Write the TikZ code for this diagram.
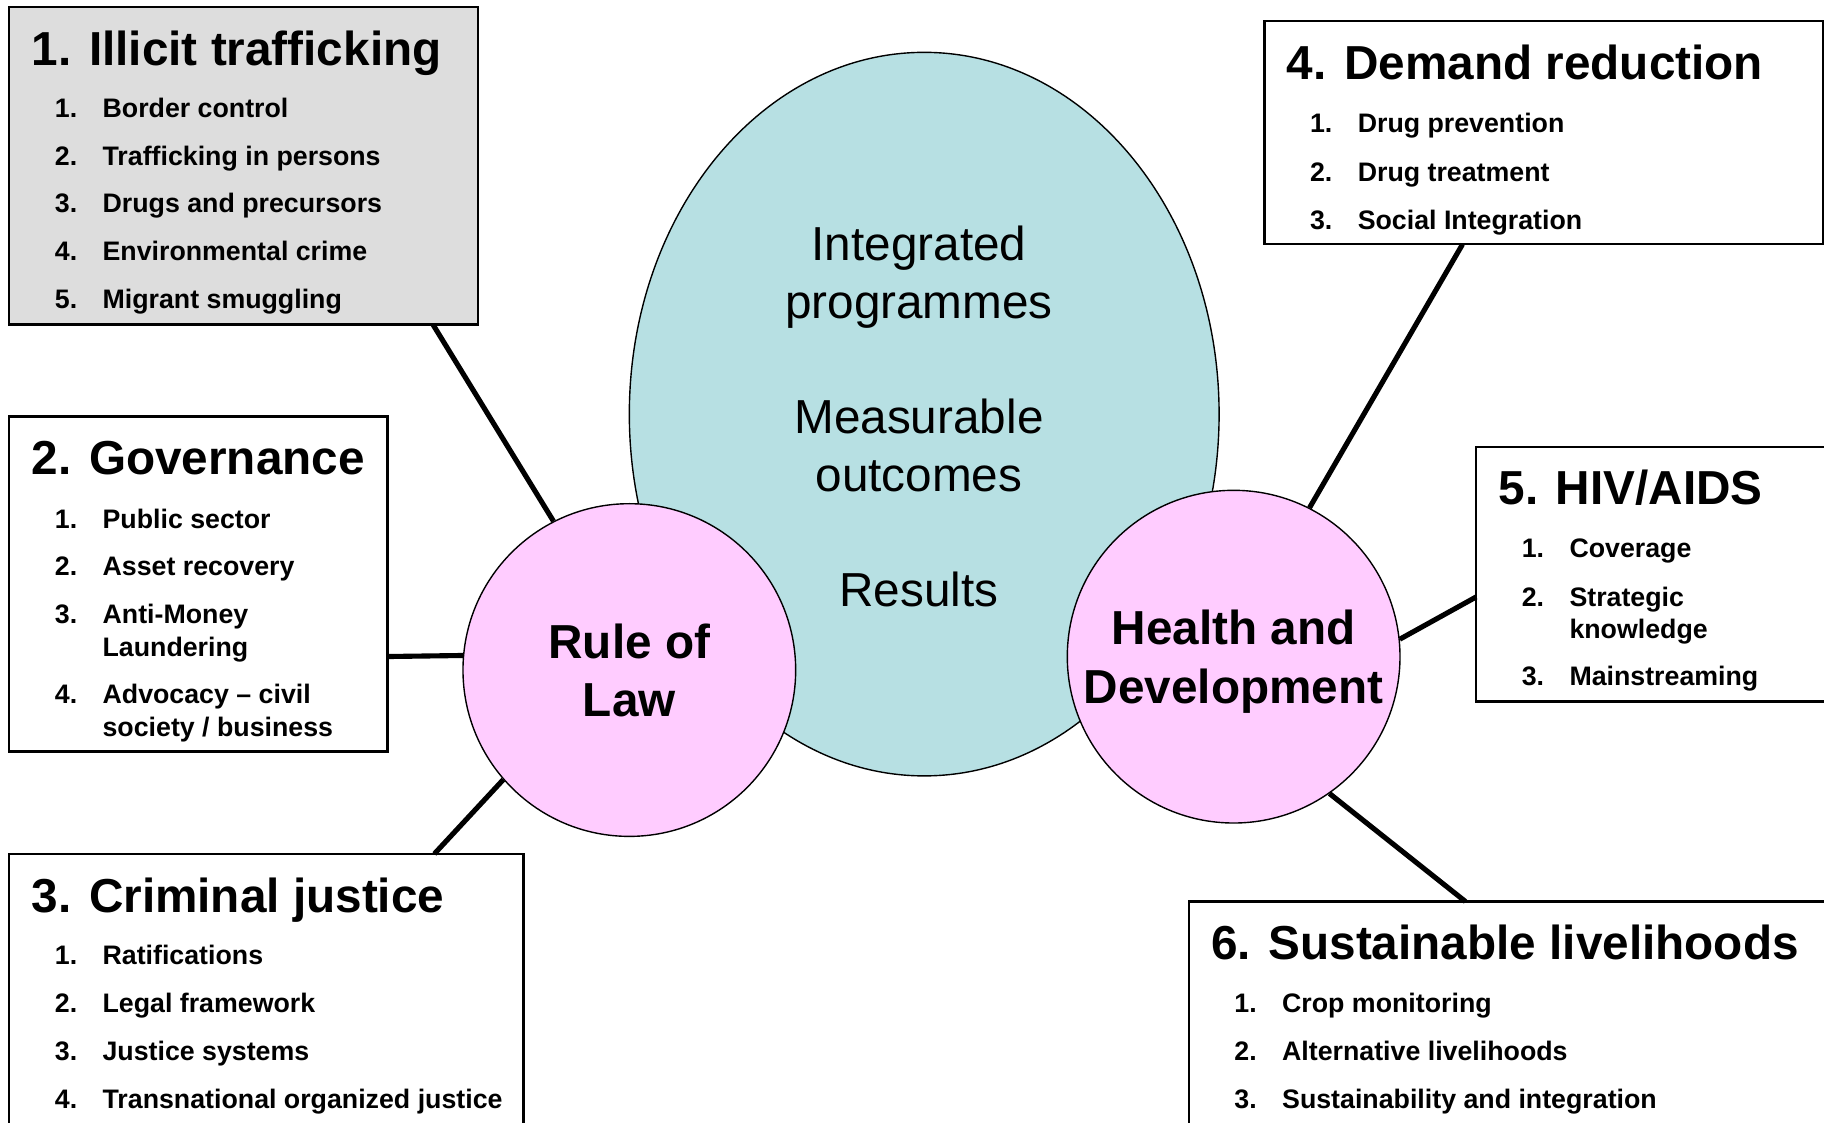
\documentclass[tikz,border=0pt]{standalone}
\usepackage{fontspec}
\setmainfont{Liberation Sans}
\usetikzlibrary{shapes.geometric}

\definecolor{coreteal}{RGB}{183,224,227}
\definecolor{hubpink}{RGB}{255,204,255}
\definecolor{panelgray}{RGB}{221,221,221}

\begin{document}
\begin{tikzpicture}[x=1pt, y=-1pt,
    panel/.style={draw, line width=2pt, anchor=north west, inner sep=0pt, outer sep=0pt, fill=white},
    hub/.style={circle, draw, line width=1.2pt, fill=hubpink, minimum size=286pt, inner sep=0pt,
                align=center, text depth=0pt, font=\fontsize{41}{50}\selectfont\bfseries},
    heading/.style={anchor=base west, inner sep=0pt, font=\fontsize{41}{49}\selectfont\bfseries},
    entry/.style={anchor=base west, inner sep=0pt, font=\fontsize{23}{28}\selectfont\bfseries},
    link/.style={line width=4.4pt}]
    \useasboundingbox (0,0) rectangle (1568,965);
    \clip (0,0) rectangle (1568,965);

    % Core ellipse
    \node[ellipse, draw, line width=1.2pt, fill=coreteal, minimum width=507pt, minimum height=622pt,
          inner sep=0pt] (core) at (794.5,356) {};
    \node[align=center, inner sep=0pt, font=\fontsize{41}{49.5}\selectfont] (coretext) at (790,358)
        {Integrated\\programmes\\[49.5pt]Measurable\\outcomes\\[49.5pt]Results};

    % Hubs
    \node[hub] (rol) at (541,576) {Rule of\\Law};
    \node[hub] (hd) at (1060.5,564.5) {Health and\\Development};

    % Panels
    \node[panel, fill=panelgray, minimum width=403pt, minimum height=273pt] (traf) at (8,6) {};
    \node[panel, minimum width=325pt, minimum height=288pt] (gov) at (8,358) {};
    \node[panel, minimum width=442pt, minimum height=260pt] (crim) at (8,734) {};
    \node[panel, minimum width=480pt, minimum height=192pt] (dem) at (1087,18) {};
    \node[panel, minimum width=320pt, minimum height=219pt] (hiv) at (1269,384) {};
    \node[panel, minimum width=560pt, minimum height=220pt] (sust) at (1022,775) {};

    % Headings
    \foreach \p/\txt in {traf/1. Illicit trafficking, gov/2. Governance, crim/3. Criminal justice,
                         dem/4. Demand reduction, hiv/5. HIV{/}AIDS, sust/6. Sustainable livelihoods}
        \node[heading] (\p-head) at ([shift={(19,50)}]\p.north west) {\txt};

    % Entries
    \foreach \dy/\txt [count=\i] in {95/Border control, 136/Trafficking in persons,
                                     177/Drugs and precursors, 218/Environmental crime, 259/Migrant smuggling} {
        \node[entry] (traf-n\i) at ([shift={(39,\dy)}]traf.north west) {\i.};
        \node[entry] (traf-t\i) at ([shift={(80,\dy)}]traf.north west) {\txt};
    }
    \foreach \dy/\txt [count=\i] in {96/Public sector, 137/Asset recovery,
                                     178/{\parbox[t]{220pt}{Anti-Money\\Laundering}},
                                     247/{\parbox[t]{220pt}{Advocacy – civil\\society / business}}} {
        \node[entry] (gov-n\i) at ([shift={(39,\dy)}]gov.north west) {\i.};
        \node[entry] (gov-t\i) at ([shift={(80,\dy)}]gov.north west) {\txt};
    }
    \foreach \dy/\txt [count=\i] in {95/Ratifications, 136/Legal framework,
                                     178/Justice systems, 219/Transnational organized justice} {
        \node[entry] (crim-n\i) at ([shift={(39,\dy)}]crim.north west) {\i.};
        \node[entry] (crim-t\i) at ([shift={(80,\dy)}]crim.north west) {\txt};
    }
    \foreach \dy/\txt [count=\i] in {96/Drug prevention, 138/Drug treatment, 179/Social Integration} {
        \node[entry] (dem-n\i) at ([shift={(39,\dy)}]dem.north west) {\i.};
        \node[entry] (dem-t\i) at ([shift={(80,\dy)}]dem.north west) {\txt};
    }
    \foreach \dy/\txt [count=\i] in {95/Coverage, 137/{\parbox[t]{220pt}{Strategic\\knowledge}},
                                     205/Mainstreaming} {
        \node[entry] (hiv-n\i) at ([shift={(39,\dy)}]hiv.north west) {\i.};
        \node[entry] (hiv-t\i) at ([shift={(80,\dy)}]hiv.north west) {\txt};
    }
    \foreach \dy/\txt [count=\i] in {95/Crop monitoring, 137/Alternative livelihoods,
                                     178/Sustainability and integration} {
        \node[entry] (sust-n\i) at ([shift={(39,\dy)}]sust.north west) {\i.};
        \node[entry] (sust-t\i) at ([shift={(80,\dy)}]sust.north west) {\txt};
    }

    % Links
    \draw[link] (traf.-40) -- (rol.117);
    \draw[link] (gov.-21) -- (rol.175);
    \draw[link] (crim.42) -- (rol.221);
    \draw[link] (dem.-126) -- (hd.63);
    \draw[link] (hiv.187) -- (hd.6);
    \draw[link] (sust.111) -- (hd.-55);
\end{tikzpicture}
\end{document}
